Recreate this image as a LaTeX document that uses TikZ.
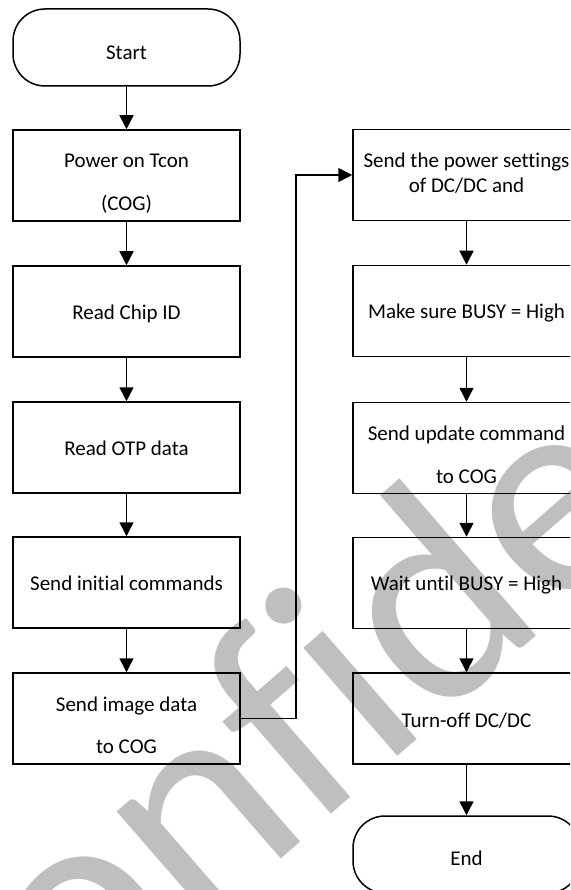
\documentclass[tikz,border=0pt]{standalone}
\usepackage{fontspec}
\setmainfont{Carlito}[Ligatures=CommonOff]
\usetikzlibrary{arrows.meta}
\begin{document}
\begin{tikzpicture}[x=1pt,y=-1pt,
  box/.style={draw, line width=1.5pt, minimum width=227pt, minimum height=91pt, inner sep=0pt},
  pill/.style={draw, line width=1.5pt, minimum width=227pt, minimum height=77pt, rounded corners=32pt, inner sep=0pt},
  txt/.style={anchor=base, inner sep=0pt, font=\fontsize{21}{25}\selectfont},
  arr/.style={line width=1.5pt, -{Triangle[width=14pt,length=14pt]}},
  wmark/.style={anchor=base west, inner sep=0pt, rotate=41, text=black!25, font=\fontsize{300}{300}\selectfont}
]
\useasboundingbox (0,0) rectangle (570,890);
\clip (0,0) rectangle (570,890);
\node[wmark] (wm) at (-45,1142) {Confidential};
% left column
\node[pill] (start) at (126.5,47.5) {};
\node[box] (p1) at (126.5,175.5) {};
\node[box] (p2) at (126.5,311.5) {};
\node[box] (p3) at (126.5,447.5) {};
\node[box] (p4) at (126.5,582.5) {};
\node[box] (p5) at (126.5,718.5) {};
% right column
\node[box] (r1) at (466.5,175) {};
\node[box] (r2) at (466.5,311) {};
\node[box] (r3) at (466.5,448) {};
\node[box] (r4) at (466.5,583) {};
\node[box] (r5) at (466.5,718.5) {};
\node[pill] (end) at (466.5,854.5) {};
% texts
\node[txt] (tS) at (126.5,59.3) {Start};
\node[txt] (t1a) at (126.5,167.3) {Power on Tcon};
\node[txt] (t1b) at (126.5,210.7) {(COG)};
\node[txt] (t2) at (126.5,319.3) {Read Chip ID};
\node[txt] (t3) at (126.5,455.3) {Read OTP data};
\node[txt] (t4) at (126.5,590.7) {Send initial commands};
\node[txt] (t5a) at (126.5,711.7) {Send image data};
\node[txt] (t5b) at (126.5,753.3) {to COG};
\node[txt] (u1a) at (466.5,167.7) {Send the power settings};
\node[txt] (u1b) at (466.5,192.7) {of DC/DC and};
\node[txt] (u2) at (466.5,318.3) {Make sure BUSY = High};
\node[txt] (u3a) at (466.5,440.7) {Send update command};
\node[txt] (u3b) at (466.5,483.3) {to COG};
\node[txt] (u4) at (466.5,590.7) {Wait until BUSY = High};
\node[txt] (u5) at (466.5,727.3) {Turn-off DC/DC};
\node[txt] (tE) at (466.5,865) {End};
% connectors
\draw[arr] (start) -- (p1);
\draw[arr] (p1) -- (p2);
\draw[arr] (p2) -- (p3);
\draw[arr] (p3) -- (p4);
\draw[arr] (p4) -- (p5);
\coordinate (bend) at (296,0);
\draw[arr] (p5.east) -- (p5.east -| bend) -- (r1.west -| bend) -- (r1.west);
\draw[arr] (r1) -- (r2);
\draw[arr] (r2) -- (r3);
\draw[arr] (r3) -- (r4);
\draw[arr] (r4) -- (r5);
\draw[arr] (r5) -- (end);
\end{tikzpicture}
\end{document}
